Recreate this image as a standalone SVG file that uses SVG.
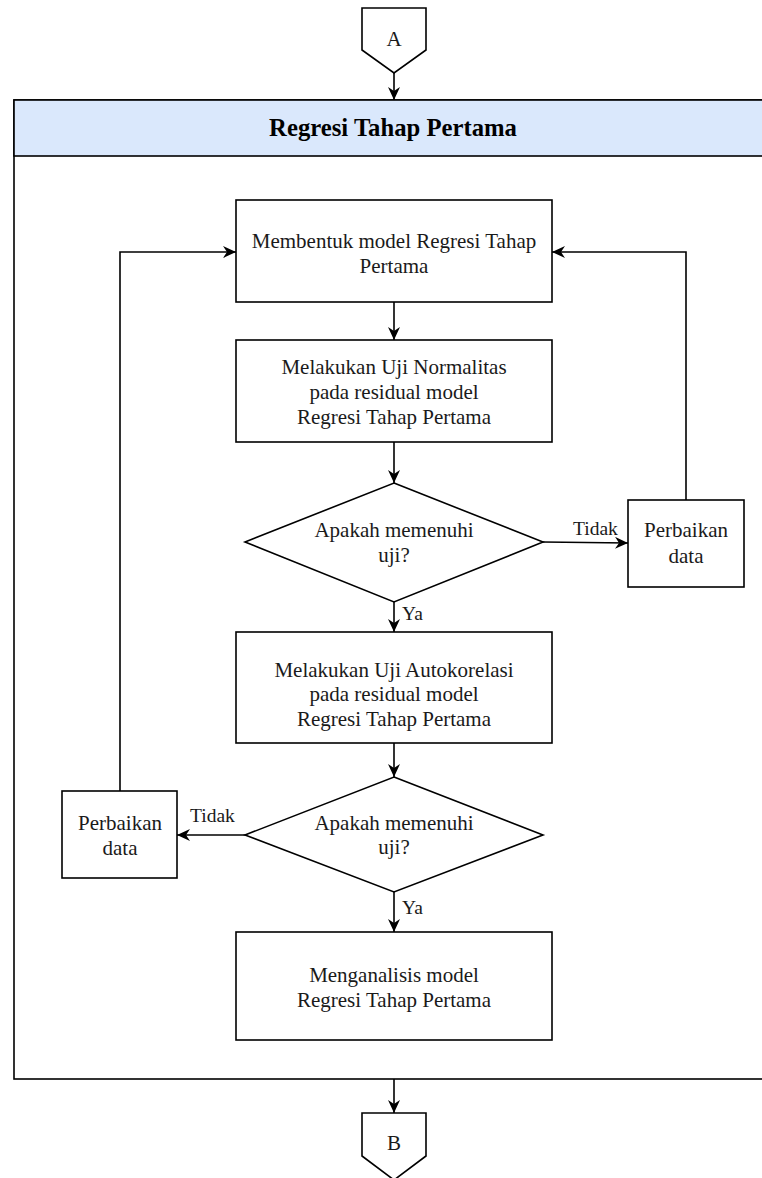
<svg xmlns="http://www.w3.org/2000/svg" width="762" height="1178" viewBox="0 0 762 1178">
<style>
.n{fill:#fff;stroke:#000;stroke-width:1.6}
.t{font-family:'Liberation Serif','Times New Roman',Times,serif;font-size:21px;fill:#1a1a1a;text-anchor:middle}
.l{font-family:'Liberation Serif','Times New Roman',Times,serif;font-size:19.5px;fill:#1a1a1a}
.h{font-family:'Liberation Serif','Times New Roman',Times,serif;font-size:24.7px;font-weight:bold;fill:#000;text-anchor:middle}
.c{fill:none;stroke:#000;stroke-width:1.6}
</style>
<defs>
<marker id="ah" markerUnits="userSpaceOnUse" markerWidth="14" markerHeight="12" refX="13" refY="6" orient="auto">
<path d="M0,0 L13,6 L0,12 L4,6 Z" fill="#000"/>
</marker>
</defs>
<rect width="762" height="1178" fill="#fff"/>
<g id="container">
<rect x="14" y="100" width="770" height="979" fill="#fff" stroke="#000" stroke-width="1.6"/>
<rect x="14" y="100" width="770" height="56" fill="#dae8fc" stroke="#000" stroke-width="1.6"/>
<text class="h" x="393" y="136">Regresi Tahap Pertama</text>
</g>
<g id="offA">
<path class="n" d="M362,8 L426,8 L426,50 L394,73 L362,50 Z"/>
<text class="t" x="394" y="46">A</text>
</g>
<g id="offB">
<path class="n" d="M362,1113 L426,1113 L426,1156 L394,1180 L362,1156 Z"/>
<text class="t" x="394" y="1150">B</text>
</g>
<g id="box1">
<rect class="n" x="236" y="200" width="316" height="102"/>
<text class="t" x="394" y="248">Membentuk model Regresi Tahap</text>
<text class="t" x="394" y="273">Pertama</text>
</g>
<g id="box2">
<rect class="n" x="236" y="340" width="316" height="102"/>
<text class="t" x="394" y="374">Melakukan Uji Normalitas</text>
<text class="t" x="394" y="399">pada residual model</text>
<text class="t" x="394" y="424">Regresi Tahap Pertama</text>
</g>
<g id="dec1">
<path class="n" d="M394,483 L543,542 L394,602 L245,542 Z"/>
<text class="t" x="394" y="537">Apakah memenuhi</text>
<text class="t" x="394" y="562">uji?</text>
</g>
<g id="fixR">
<rect class="n" x="628" y="500" width="116" height="87"/>
<text class="t" x="686" y="537">Perbaikan</text>
<text class="t" x="686" y="563">data</text>
</g>
<g id="box3">
<rect class="n" x="236" y="632" width="316" height="111"/>
<text class="t" x="394" y="677">Melakukan Uji Autokorelasi</text>
<text class="t" x="394" y="701">pada residual model</text>
<text class="t" x="394" y="726">Regresi Tahap Pertama</text>
</g>
<g id="dec2">
<path class="n" d="M394,777 L543,835 L394,892 L245,835 Z"/>
<text class="t" x="394" y="830">Apakah memenuhi</text>
<text class="t" x="394" y="854">uji?</text>
</g>
<g id="fixL">
<rect class="n" x="62" y="791" width="115" height="87"/>
<text class="t" x="120" y="830">Perbaikan</text>
<text class="t" x="120" y="855">data</text>
</g>
<g id="box4">
<rect class="n" x="236" y="932" width="316" height="108"/>
<text class="t" x="394" y="982">Menganalisis model</text>
<text class="t" x="394" y="1007">Regresi Tahap Pertama</text>
</g>
<g id="connectors">
<line class="c" x1="394" y1="73" x2="394" y2="100" marker-end="url(#ah)"/>
<line class="c" x1="394" y1="302" x2="394" y2="340" marker-end="url(#ah)"/>
<line class="c" x1="394" y1="442" x2="394" y2="483" marker-end="url(#ah)"/>
<line class="c" x1="394" y1="602" x2="394" y2="632" marker-end="url(#ah)"/>
<line class="c" x1="394" y1="743" x2="394" y2="777" marker-end="url(#ah)"/>
<line class="c" x1="394" y1="892" x2="394" y2="932" marker-end="url(#ah)"/>
<line class="c" x1="394" y1="1079" x2="394" y2="1113" marker-end="url(#ah)"/>
<line class="c" x1="543" y1="542" x2="628" y2="543" marker-end="url(#ah)"/>
<polyline class="c" points="686,500 686,252 552,252" marker-end="url(#ah)"/>
<line class="c" x1="245" y1="835" x2="177" y2="835" marker-end="url(#ah)"/>
<polyline class="c" points="120,791 120,252 236,252" marker-end="url(#ah)"/>
<text class="l" x="573" y="535">Tidak</text>
<text class="l" x="402" y="620">Ya</text>
<text class="l" x="190" y="822">Tidak</text>
<text class="l" x="402" y="914">Ya</text>
</g>
</svg>
